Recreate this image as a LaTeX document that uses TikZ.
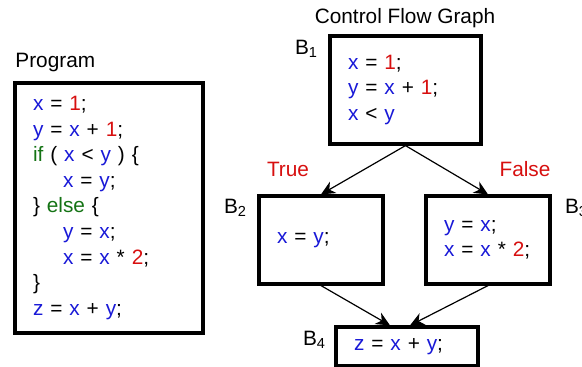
\documentclass[tikz,border=0pt]{standalone}
\usepackage{fontspec}
\setmainfont{Liberation Sans}
\usetikzlibrary{arrows.meta,positioning}
\definecolor{varblue}{RGB}{25,25,215}
\definecolor{numred}{RGB}{215,15,15}
\definecolor{kwgreen}{RGB}{20,115,20}
\newcommand\vr[1]{\textcolor{varblue}{#1}}
\newcommand\nm[1]{\textcolor{numred}{#1}}
\newcommand\kw[1]{\textcolor{kwgreen}{#1}}
\newcommand\ind{\hspace*{15pt}}
\tikzset{blk/.style={draw,line width=1.6pt,inner xsep=9pt,align=left,font=\fontsize{10.4}{12.8}\selectfont},
lbl/.style={inner sep=1pt,font=\fontsize{10.4}{12.8}\selectfont},
edge/.style={-{Stealth[length=7pt,width=6.5pt,inset=2.2pt]},line width=.6pt}}
\begin{document}
\begin{tikzpicture}[x=.5pt,y=-.5pt]
\useasboundingbox(0,0)rectangle(582,367);
\node[lbl,anchor=base west](tprog)at(13,68){Program};
\node[lbl,anchor=base](tcfg)at(405,24){Control Flow Graph};
\node[blk,minimum height=125pt,text width=76pt](prog)at(109,208){\vr{x} = \nm{1};\\\vr{y} = \vr{x} + \nm{1};\\\kw{if} ( \vr{x} < \vr{y} ) \{\\\ind\vr{x} = \vr{y};\\\} \kw{else} \{\\\ind\vr{y} = \vr{x};\\\ind\vr{x} = \vr{x} * \nm{2};\\\}\\\vr{z} = \vr{x} + \vr{y};};
\node[blk,minimum height=54pt,text width=57.5pt](b1)at(405.5,90){\vr{x} = \nm{1};\\\vr{y} = \vr{x} + \nm{1};\\\vr{x} < \vr{y}};
\node[blk,minimum height=44pt,text width=44pt](b2)at(321,240){\vr{x} = \vr{y};};
\node[blk,minimum height=44pt,text width=44pt](b3)at(488,240){\vr{y} = \vr{x};\\\vr{x} = \vr{x} * \nm{2};};
\node[blk,minimum height=19.5pt,text width=53pt](b4)at(407,346.5){\vr{z} = \vr{x} + \vr{y};};
% block labels
\node[lbl,below left=1.5pt and 4pt of b1.north west](lb1){B\textsubscript{1}};
\node[lbl,below left=1pt and 4pt of b2.north west](lb2){B\textsubscript{2}};
\node[lbl,below right=1pt and 5.5pt of b3.north east](lb3){B\textsubscript{3}};
\node[lbl,below left=1.5pt and 3pt of b4.north west](lb4){B\textsubscript{4}};
\node[lbl,anchor=base,numred](ltrue)at(288,177){True};
\node[lbl,anchor=base,numred](lfalse)at(525,177){False};
% edges
\draw[edge](b1.south)--(b2.north);\draw[edge](b1.south)--(b3.north);
\draw[edge](b2.south)--([xshift=-8.5pt]b4.north);\draw[edge](b3.south)--([xshift=1.5pt]b4.north);
\end{tikzpicture}
\end{document}
